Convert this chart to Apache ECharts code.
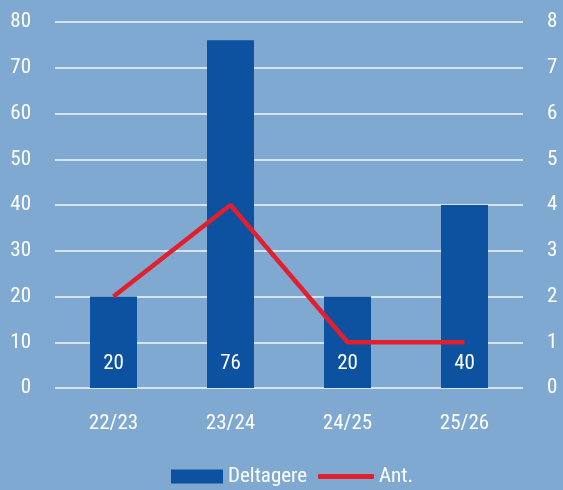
<!DOCTYPE html>
<html>
<head>
<meta charset="utf-8">
<script src="https://cdn.jsdelivr.net/npm/echarts@6/dist/echarts.min.js"></script>
<style>
  html, body { margin: 0; padding: 0; background: #80a9d1; }
  #chart { width: 563px; height: 490px; }
</style>
</head>
<body>
<div id="chart"></div>
<script>
  const seasons = ['22/23', '23/24', '24/25', '25/26'];
  const deltagere = [20, 76, 20, 40];
  const antal = [2, 4, 1, 1];

  const font = '"Roboto Condensed", Roboto, sans-serif';
  const txt = { color: '#ffffff', fontSize: 21, fontFamily: font };
  const chart = echarts.init(document.getElementById('chart'));
  chart.setOption({
    backgroundColor: '#80a9d1',
    textStyle: { fontFamily: font },
    grid: { left: 55, right: 40, top: 22, bottom: 102 },
    legend: [
      {
        left: 166, top: 461,
        data: ['Deltagere'],
        icon: 'rect', itemWidth: 52, itemHeight: 14, itemGap: 6,
        textStyle: txt
      },
      {
        left: 313, top: 461,
        data: ['Ant.'],
        icon: 'roundRect', itemWidth: 56, itemHeight: 5,
        textStyle: txt
      }
    ],
    xAxis: {
      type: 'category',
      data: seasons,
      axisLine: { show: false },
      axisTick: { show: false },
      axisLabel: Object.assign({ margin: 25 }, txt)
    },
    yAxis: [
      {
        type: 'value', min: 0, max: 80, interval: 10,
        axisLabel: Object.assign({ margin: 24 }, txt),
        splitLine: { lineStyle: { color: '#d6e3f0', width: 2 } }
      },
      {
        type: 'value', min: 0, max: 8, interval: 1,
        axisLabel: Object.assign({ margin: 24 }, txt),
        splitLine: { show: false }
      }
    ],
    series: [
      {
        name: 'Deltagere',
        type: 'bar',
        data: deltagere,
        barWidth: 47,
        itemStyle: { color: '#0d52a0' },
        label: Object.assign({
          show: true,
          position: 'insideBottom',
          distance: 14
        }, txt)
      },
      {
        name: 'Ant.',
        type: 'line',
        yAxisIndex: 1,
        data: antal,
        symbol: 'none',
        lineStyle: { color: '#e31e2d', width: 4.5 },
        itemStyle: { color: '#e31e2d' }
      }
    ]
  });
</script>
</body>
</html>
